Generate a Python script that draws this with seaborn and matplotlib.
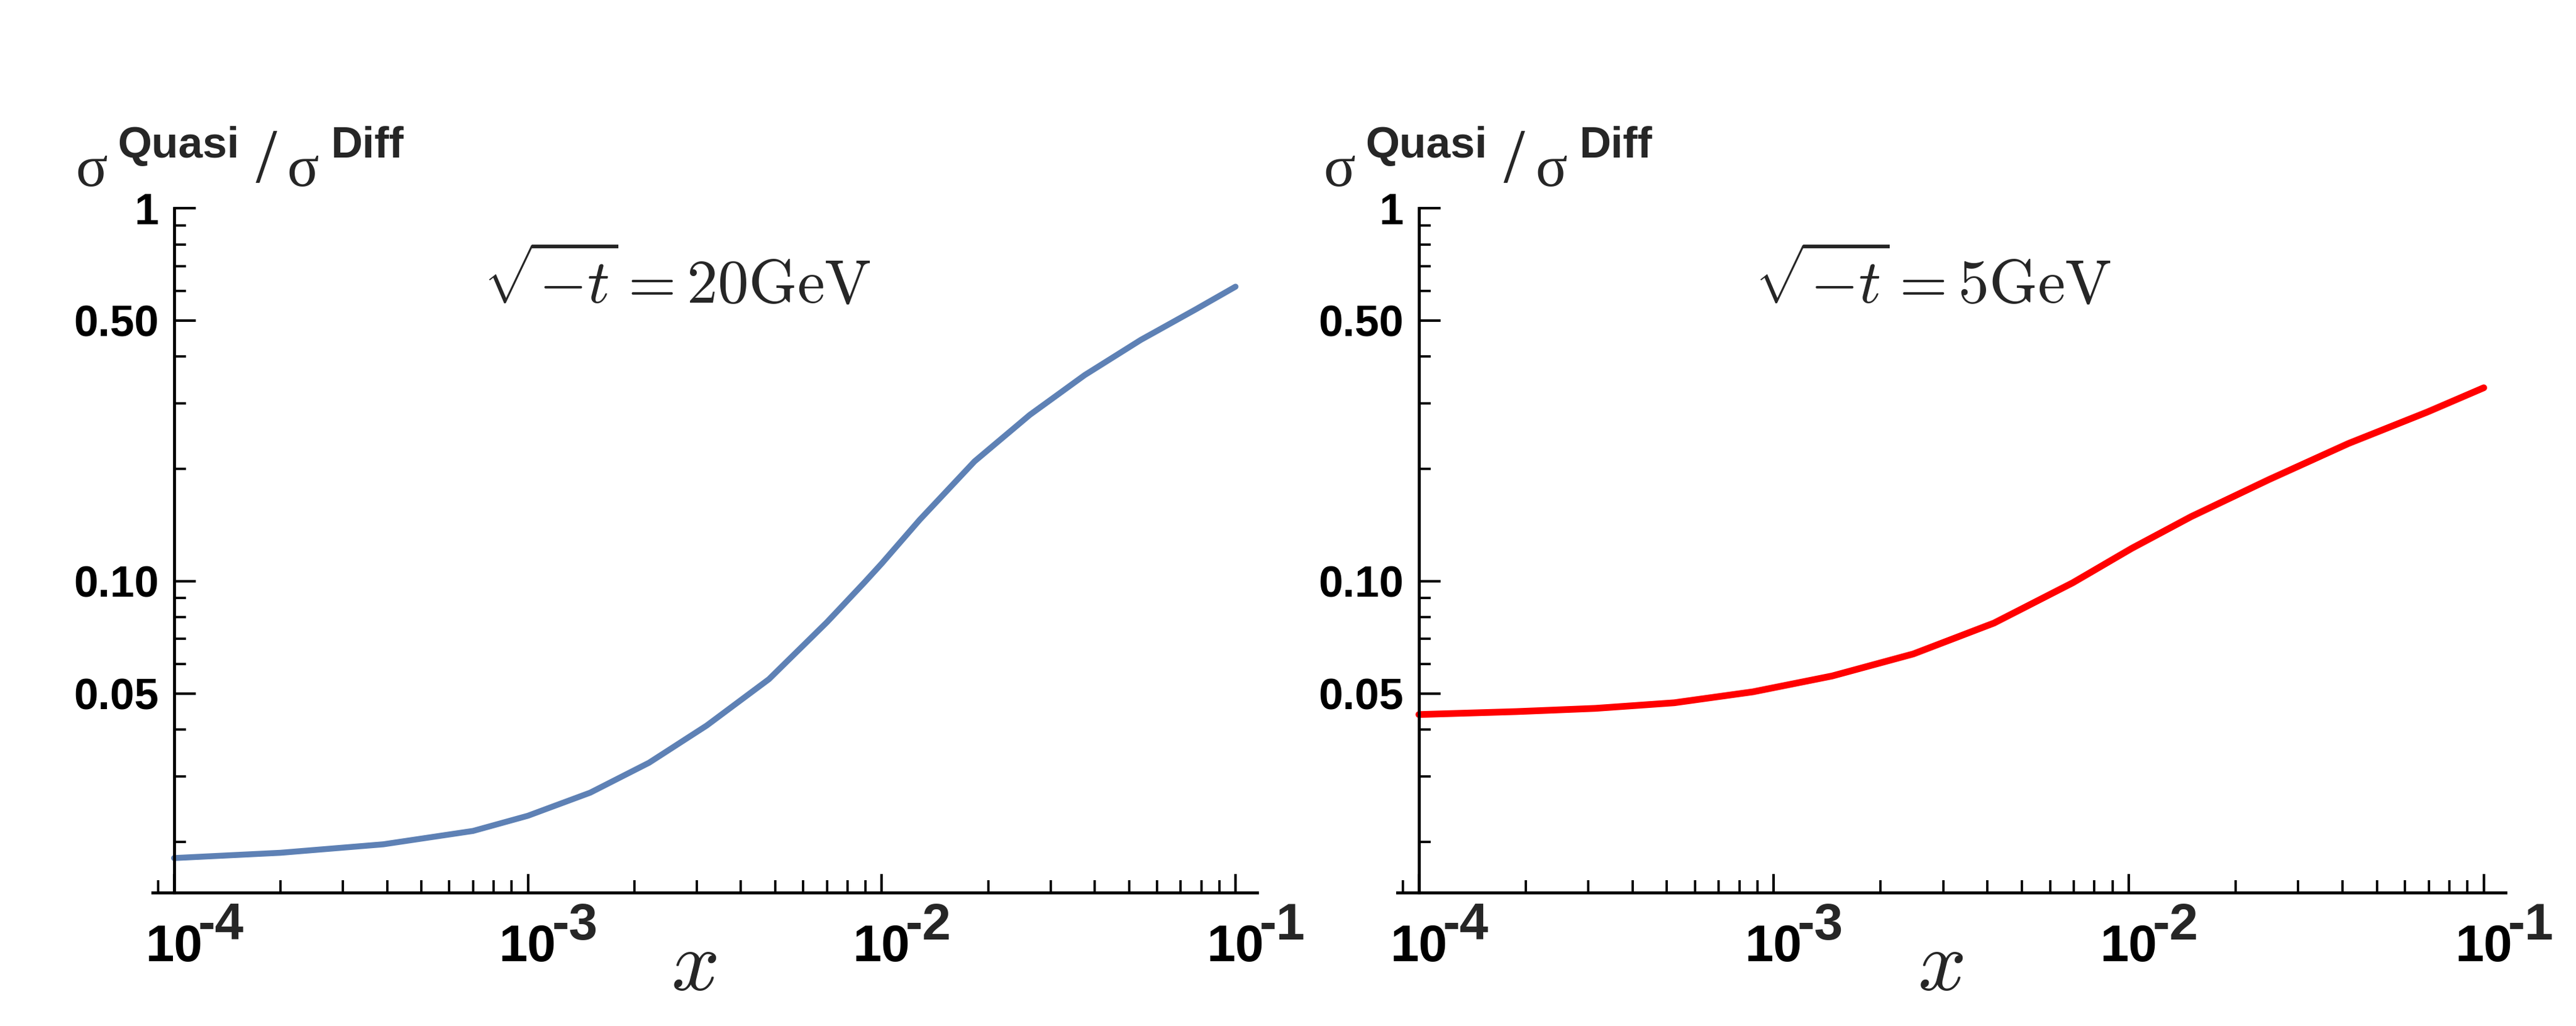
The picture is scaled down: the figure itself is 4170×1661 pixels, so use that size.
import numpy as np
import pandas as pd
import matplotlib
matplotlib.use("Agg")
import matplotlib.pyplot as plt
import matplotlib.ticker as mticker
import seaborn as sns

# curva da esquerda (sqrt(-t) = 20 GeV)
x_20gev = [1e-4, 2e-4, 3.9e-4, 7e-4, 1e-3, 1.5e-3, 2.2e-3, 3.2e-3, 4.8e-3, 7e-3,
           8.9e-3, 1e-2, 1.28e-2, 1.83e-2, 2.62e-2, 3.75e-2, 5.4e-2, 7.7e-2, 1e-1]
y_20gev = [0.0181, 0.0187, 0.0197, 0.0214, 0.0235, 0.0271, 0.0326, 0.0410, 0.0546, 0.0776,
           0.0988, 0.1115, 0.146, 0.2095, 0.279, 0.357, 0.4435, 0.5347, 0.616]

# curva da direita (sqrt(-t) = 5 GeV)
x_5gev = [1e-4, 1.88e-4, 3.14e-4, 5.24e-4, 8.73e-4, 1.46e-3, 2.47e-3, 4.17e-3, 6.95e-3,
          1.02e-2, 1.5e-2, 2.49e-2, 4.16e-2, 6.93e-2, 1e-1]
y_5gev = [0.0439, 0.0447, 0.0456, 0.0472, 0.0505, 0.0557, 0.0638, 0.0772, 0.099,
          0.1225, 0.149, 0.1875, 0.234, 0.284, 0.330]

# ticks
x_ticks = [1e-4, 1e-3, 1e-2, 1e-1]
x_expoentes = ['-4', '-3', '-2', '-1']
y_ticks = [0.05, 0.1, 0.5, 1.0]
y_tick_labels = ['0.05', '0.10', '0.50', '1']

titulos = [r'$\sqrt{-t}=20\mathrm{GeV}$', r'$\sqrt{-t}=5\mathrm{GeV}$']
cores = ['#5E81B5', '#FF0000']
larguras = [2.3, 2.6]

# estilo
sns.set_style('ticks')
plt.rcParams['font.family'] = ['Liberation Sans', 'DejaVu Sans']
plt.rcParams['axes.edgecolor'] = 'black'
plt.rcParams['xtick.color'] = 'black'
plt.rcParams['ytick.color'] = 'black'

fig = plt.figure(figsize=(4170 / 300, 1661 / 300), dpi=300)
fig.patch.set_facecolor('white')

ax1 = fig.add_axes([0.0592, 0.1300, 0.4288, 0.6671])
ax2 = fig.add_axes([0.5424, 0.1300, 0.4302, 0.6671])

dados = [pd.DataFrame({'x': x_20gev, 'ratio': y_20gev}),
         pd.DataFrame({'x': x_5gev, 'ratio': y_5gev})]


def estilo_eixo(ax):
    ax.set_xlim(10 ** -4.061, 10 ** -0.939)
    ax.set_ylim(10 ** -1.835, 1.0)
    ax.spines[['top', 'right']].set_visible(False)
    ax.spines['left'].set_position(('data', x_ticks[0]))
    for s in ('left', 'bottom'):
        ax.spines[s].set_linewidth(1.15)
        ax.spines[s].set_color('black')

    ax.set_xticks(x_ticks, ['10'] * len(x_ticks))
    ax.set_yticks(y_ticks, y_tick_labels)
    ax.xaxis.set_minor_locator(mticker.LogLocator(base=10, subs=np.arange(2, 10), numticks=50))
    ax.yaxis.set_minor_locator(mticker.LogLocator(base=10, subs=np.arange(2, 10), numticks=50))
    ax.xaxis.set_minor_formatter(mticker.NullFormatter())
    ax.yaxis.set_minor_formatter(mticker.NullFormatter())

    ax.tick_params(axis='x', which='major', direction='in', length=7.2, width=1.0, pad=12, labelsize=20)
    ax.tick_params(axis='x', which='minor', direction='in', length=4.8, width=0.9)
    ax.tick_params(axis='y', which='major', direction='in', length=8.3, width=1.0, pad=6, labelsize=17)
    ax.tick_params(axis='y', which='minor', direction='in', length=4.6, width=0.9)
    for lab in ax.get_yticklabels() + ax.get_xticklabels():
        lab.set_fontweight('bold')

    # expoentes grandes, como no original
    for t, e in zip(x_ticks, x_expoentes):
        ax.annotate(e, xy=(t, 0), xycoords=ax.get_xaxis_transform(),
                    xytext=(9.3, -18.2), textcoords='offset points',
                    ha='left', va='baseline', fontsize=20, fontweight='bold',
                    annotation_clip=False)

    ax.set_xlabel('')
    ax.set_ylabel('')
    ax.grid(False)
    ax.set_facecolor('white')


def rotulo_y(ax, x0, y0):
    """sigma^Quasi / sigma^Diff montado em partes"""
    partes = [
        ('\u03c3', 0, 0, 23, 'normal', 'Liberation Serif'),
        ('Quasi', 16.1, 11, 17, 'bold', 'Liberation Sans'),
        ('/', 69.8, 1.4, 30, 'normal', 'Liberation Serif'),
        ('\u03c3', 82.1, 0, 23, 'normal', 'Liberation Serif'),
        ('Diff', 99.1, 11, 17, 'bold', 'Liberation Sans'),
    ]
    for txt, dx, dy, fs, fw, fam in partes:
        ax.annotate(txt, xy=(x0, y0), xycoords='axes fraction',
                    xytext=(dx, dy), textcoords='offset points',
                    ha='left', va='baseline', fontsize=fs, fontweight=fw,
                    family=fam, annotation_clip=False)


for ax, df, cor, lw, titulo, tx in zip([ax1, ax2], dados, cores, larguras, titulos, [0.4748, 0.4833]):
    ax.set_xscale('log')
    ax.set_yscale('log')
    sns.lineplot(data=df, x='x', y='ratio', ax=ax, color=cor, linewidth=lw, clip_on=False)
    estilo_eixo(ax)
    ax.text(tx, 0.8917, titulo, transform=ax.transAxes, ha='center', va='center',
            fontsize=24, math_fontfamily='cm')
    ax.text(0.490, -0.110, r'$x$', transform=ax.transAxes, ha='center', va='center',
            fontsize=33, math_fontfamily='cm')

rotulo_y(ax1, -0.0694, 1.0325)
rotulo_y(ax2, -0.0663, 1.0325)

fig.savefig('out.png', dpi=300, facecolor='white')
